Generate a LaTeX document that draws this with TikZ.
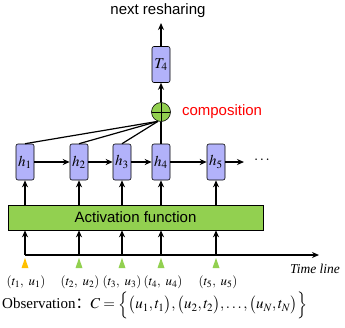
\documentclass[tikz,border=0pt]{standalone}
\usepackage{mathptmx}
\usepackage{fontspec}
\setmainfont{Liberation Serif}
\setsansfont{Liberation Sans}
\newfontfamily\cjk{Noto Sans CJK SC}
\usetikzlibrary{positioning, arrows.meta}
\usepackage{xcolor}
\definecolor{hfill}{RGB}{178,178,250}
\definecolor{actgreen}{RGB}{146,208,80}
\definecolor{tickorange}{RGB}{255,192,0}

\begin{document}
\begin{tikzpicture}[x=1pt, y=-1pt,
  every node/.style={inner sep=1pt},
  hbox/.style={draw, rounded corners=2pt, fill=hfill, line width=0.6pt,
               minimum width=18pt, minimum height=36pt, inner sep=0pt,
               font=\fontsize{15}{18}\selectfont},
  lbl/.style={font=\fontsize{15}{18}\selectfont\sffamily},
  tlab/.style={font=\fontsize{13}{15}\selectfont, inner sep=0pt},
  arrow/.style={-{Stealth[length=7pt, width=6pt]}, line width=1.2pt},
  link/.style={line width=1.2pt}]
\useasboundingbox (0,0) rectangle (345,327);
% cells
\node[hbox] (h1) at (25,162) {$h_1$};
\node[hbox] (h2) at (79,162) {$h_2$};
\node[hbox] (h3) at (122,162) {$h_3$};
\node[hbox] (h4) at (161,162) {$h_4$};
\node[hbox] (h5) at (216,162) {$h_5$};
\coordinate (hout) at (244,162);
\node[font=\fontsize{15}{18}\selectfont] (dots) at (262,160) {$\cdots$};
\draw[arrow] (h1) -- (h2);
\draw[arrow] (h2) -- (h3);
\draw[arrow] (h3) -- (h4);
\draw[arrow] (h4) -- (h5);
\draw[arrow] (h5) -- (hout);
% composition
\node[circle, draw, fill=actgreen, line width=0.6pt, minimum size=19pt,
      inner sep=0pt,
      path picture={\draw[line width=0.8pt]
        (path picture bounding box.north) -- (path picture bounding box.south)
        (path picture bounding box.west) -- (path picture bounding box.east);}]
  (comp) at (161,112) {};
\node[lbl, text=red, right=10pt of comp] (acomp) {composition};
\draw[link] (h1.north) -- (comp.252);
\draw[link] (h2.north) -- (comp.252);
\draw[link] (h3.north) -- (comp.252);
\draw[link] (h4.north) -- (comp.south);
\node[hbox] (T4) at (161,64.5) {$T_4$};
\draw[arrow] (comp) -- (T4);
\coordinate (out) at (161,23);
\node[lbl] (next) at (158,11) {next resharing};
\draw[arrow] (T4) -- (out);
% activation
\node[draw, fill=actgreen, line width=0.6pt, minimum width=255pt,
      minimum height=25pt, lbl] (act) at (135.5,217.5) {Activation function};
\draw[arrow] (act.north -| h1) -- (h1);
\draw[arrow] (act.north -| h2) -- (h2);
\draw[arrow] (act.north -| h3) -- (h3);
\draw[arrow] (act.north -| h4) -- (h4);
\draw[arrow] (act.north -| h5) -- (h5);
% time line
\coordinate (t1) at (25,255);
\coordinate (t2) at (79,255);
\coordinate (t3) at (122,255);
\coordinate (t4) at (161,255);
\coordinate (t5) at (216,255);
\coordinate (tend) at (319,255);
\draw[arrow] (t1) -- (tend);
\draw[arrow] (t1) -- (t1 |- act.south);
\draw[arrow] (t2) -- (t2 |- act.south);
\draw[arrow] (t3) -- (t3 |- act.south);
\draw[arrow] (t4) -- (t4 |- act.south);
\draw[arrow] (t5) -- (t5 |- act.south);
\fill[tickorange] (t1) ++(0,3) -- ++(3.5,10) -- ++(-7,0) -- cycle;
\fill[actgreen] (t2) ++(0,3) -- ++(3.5,10) -- ++(-7,0) -- cycle;
\fill[actgreen] (t3) ++(0,3) -- ++(3.5,10) -- ++(-7,0) -- cycle;
\fill[actgreen] (t4) ++(0,3) -- ++(3.5,10) -- ++(-7,0) -- cycle;
\fill[actgreen] (t5) ++(0,3) -- ++(3.5,10) -- ++(-7,0) -- cycle;
\node[font=\fontsize{13.5}{16}\selectfont\itshape] (tline) at (315,269) {Time line};
\node[tlab] (l1) at (26,282) {$(t_1,\ u_1)$};
\node[tlab] (l2) at (80,282) {$(t_2,\ u_2)$};
\node[tlab] (l3) at (122,282) {$(t_3,\ u_3)$};
\node[tlab] (l4) at (163,282) {$(t_4,\ u_4)$};
\node[tlab] (l5) at (218,282) {$(t_5,\ u_5)$};
% observation
\node[font=\fontsize{15}{18}\selectfont, anchor=west] (obs) at (1,305)
  {Observation{\cjk ：}$C=\Big\{\big(u_1,t_1\big),\big(u_2,t_2\big),\ldots,\big(u_N,t_N\big)\Big\}$};
\end{tikzpicture}
\end{document}
